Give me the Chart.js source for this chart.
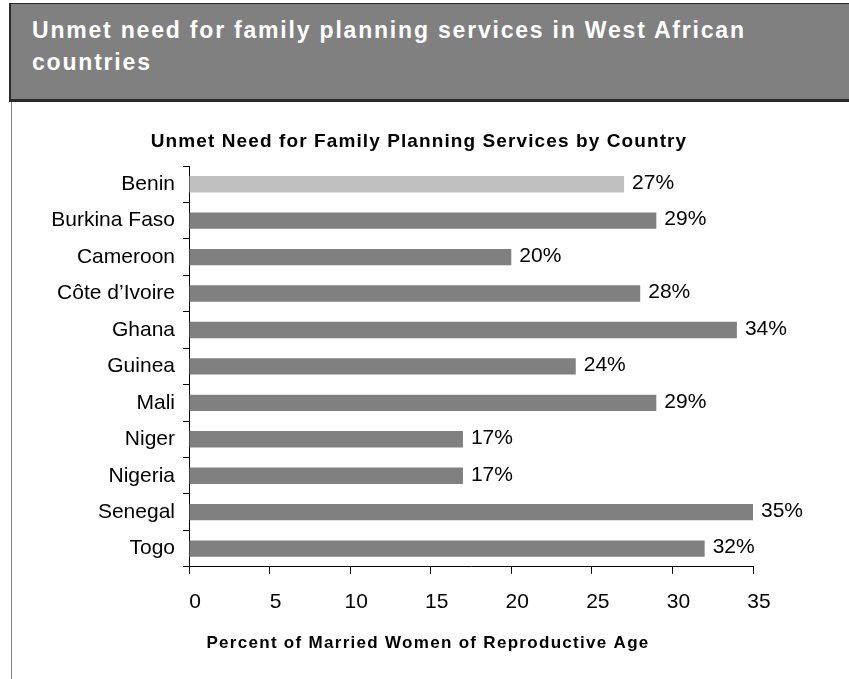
<!DOCTYPE html>
<html lang="en">
<head>
  <meta charset="UTF-8" />
  <title>Unmet need for family planning services in West African countries</title>
  <script src="https://cdn.jsdelivr.net/npm/chart.js"></script>
  <style>
    body {
      margin: 0;
      background: #fff;
      font-family: "Liberation Sans", Arial, sans-serif;
      width: 849px;
      height: 679px;
      overflow: hidden;
      position: relative;
    }
    .banner {
      position: absolute;
      left: 9px;
      top: 3px;
      width: 840px;
      height: 95px;
      background: #808080;
      border-top: 1px solid #2a2a2a;
      border-left: 2px solid #2a2a2a;
      border-bottom: 3px solid #2a2a2a;
    }
    .banner h1 {
      margin: 0;
      position: absolute;
      left: 21px;
      top: 10px;
      color: #fff;
      font-size: 23px;
      line-height: 32px;
      letter-spacing: 1.8px;
      font-weight: bold;
    }
    .side {
      position: absolute;
      left: 11px;
      top: 102px;
      width: 1px;
      height: 577px;
      background: #808080;
    }
    .wrap {
      position: absolute;
      left: 12px;
      top: 102px;
      width: 837px;
      height: 577px;
    }
  </style>
</head>
<body>
  <div class="banner"><h1>Unmet need for family planning services in West African<br>countries</h1></div>
  <div class="side"></div>
  <div class="wrap"><canvas id="grafico" width="837" height="577"></canvas></div>
  <script>
    const paises = ['Benin', 'Burkina Faso', 'Cameroon', 'C\u00f4te d\u2019Ivoire', 'Ghana', 'Guinea',
                    'Mali', 'Niger', 'Nigeria', 'Senegal', 'Togo'];
    const necesidad = [27, 29, 20, 28, 34, 24, 29, 17, 17, 35, 32];
    const colores = ['#c0c0c0', '#808080', '#808080', '#808080', '#808080', '#808080',
                     '#808080', '#808080', '#808080', '#808080', '#808080'];
    const ticksX = [0, 5, 10, 15, 20, 25, 30, 35];
    const tituloGrafico = 'Unmet Need for Family Planning Services by Country';
    const tituloEjeX = 'Percent of Married Women of Reproductive Age';

    const fuente = '"Liberation Sans", Arial, sans-serif';

    // etiquetas de porcentaje a la derecha de cada barra
    const etiquetas = {
      id: 'etiquetas',
      afterDatasetsDraw(chart) {
        const ctx = chart.ctx;
        const meta = chart.getDatasetMeta(0);
        ctx.save();
        ctx.font = '21px ' + fuente;
        ctx.fillStyle = '#000';
        ctx.textAlign = 'left';
        ctx.textBaseline = 'middle';
        meta.data.forEach((bar, i) => {
          ctx.fillText(necesidad[i] + '%', bar.x + 8, bar.y - 1);
        });
        ctx.restore();
      }
    };

    // titulo del grafico y del eje x, centrados un poco a la izquierda del area
    const titulos = {
      id: 'titulos',
      afterDraw(chart) {
        const ctx = chart.ctx;
        ctx.save();
        ctx.fillStyle = '#000';
        ctx.textAlign = 'center';
        ctx.textBaseline = 'middle';
        ctx.letterSpacing = '1.1px';
        ctx.font = 'bold 19px ' + fuente;
        ctx.fillText(tituloGrafico, 407, 40);
        ctx.letterSpacing = '1.3px';
        ctx.font = 'bold 17px ' + fuente;
        ctx.fillText(tituloEjeX, 416, 541);
        ctx.restore();
      }
    };

    Chart.defaults.font.family = fuente;
    Chart.defaults.color = '#000';

    new Chart(document.getElementById('grafico'), {
      type: 'bar',
      data: {
        labels: paises,
        datasets: [{
          data: necesidad,
          backgroundColor: colores,
          borderWidth: 0,
          barPercentage: 0.9,
          categoryPercentage: 0.5
        }]
      },
      options: {
        indexAxis: 'y',
        responsive: false,
        animation: false,
        devicePixelRatio: 1,
        layout: { padding: { left: 0, right: 96, top: 64, bottom: 48 } },
        plugins: {
          legend: { display: false },
          tooltip: { enabled: false },
          title: { display: false }
        },
        scales: {
          x: {
            min: 0,
            max: 35,
            afterBuildTicks: s => { s.ticks = ticksX.map(v => ({ value: v })); },
            border: { color: '#000', width: 1 },
            grid: { drawOnChartArea: false, drawTicks: true, tickLength: 7, color: '#000' },
            ticks: { font: { size: 21 }, padding: 16, labelOffset: 6, maxRotation: 0 }
          },
          y: {
            afterFit: s => { s.width = 177; },
            border: { color: '#000', width: 1 },
            grid: { drawOnChartArea: false, drawTicks: true, tickLength: 6, color: '#000' },
            ticks: { font: { size: 21 }, padding: 8 }
          }
        }
      },
      plugins: [etiquetas, titulos]
    });
  </script>
</body>
</html>
